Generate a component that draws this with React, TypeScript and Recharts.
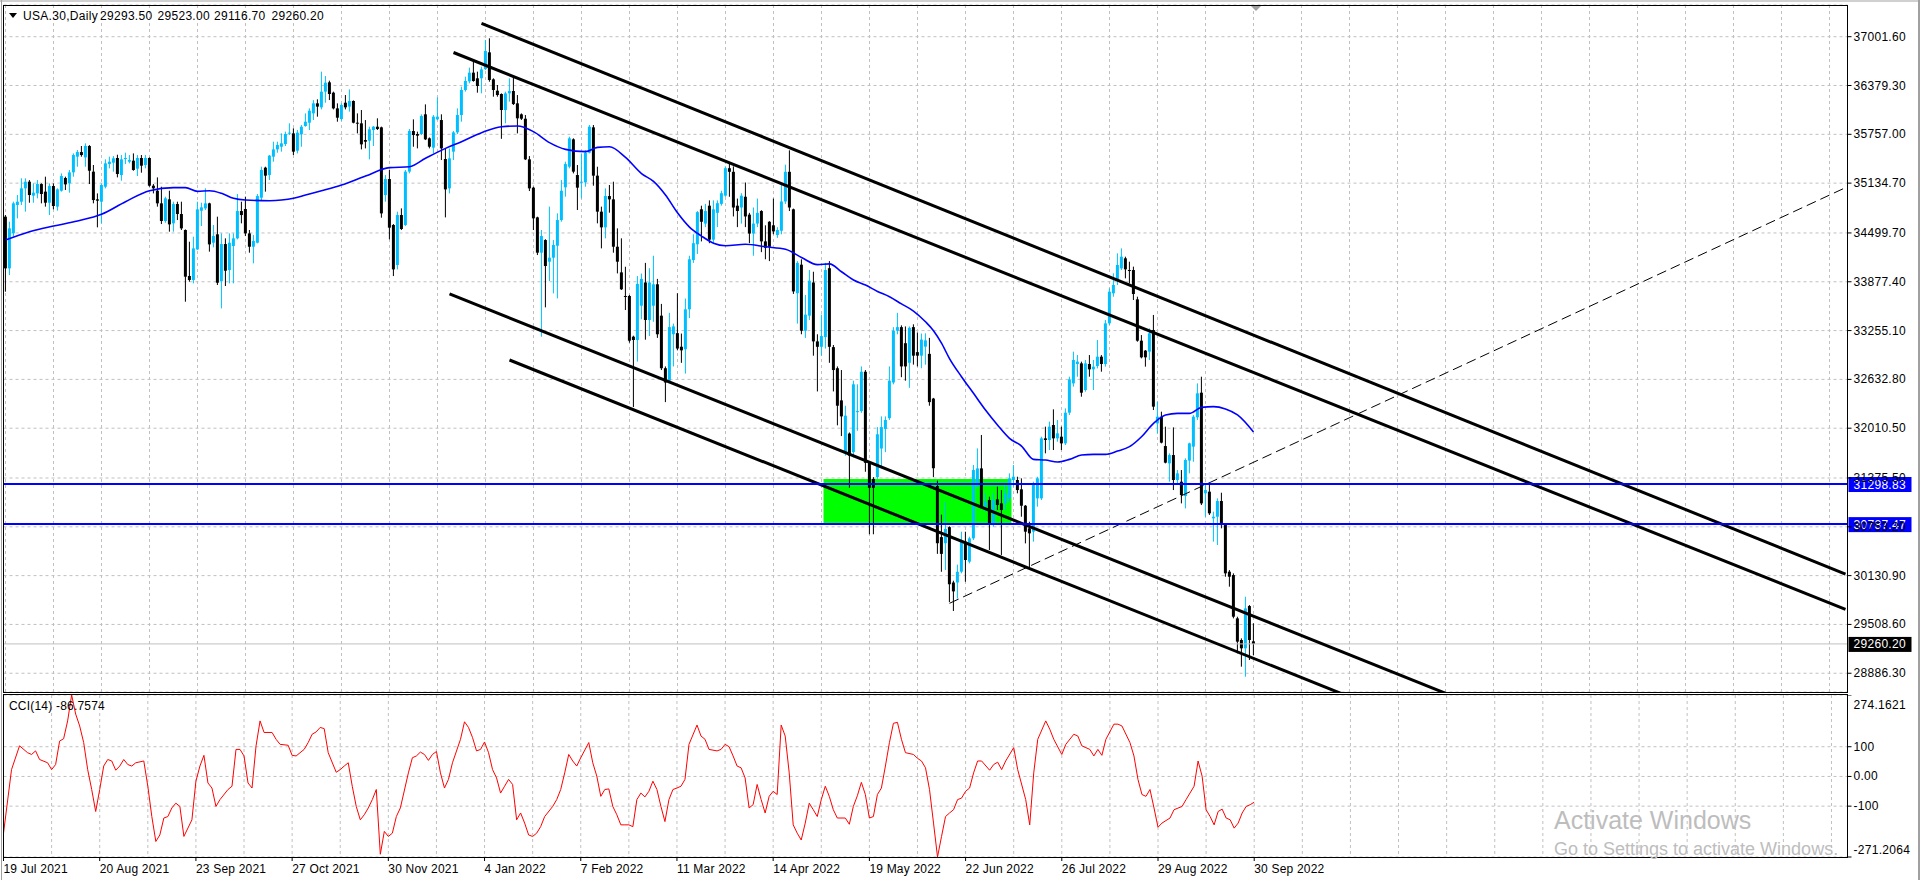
import React from 'react';
import {
  Bar,
  CartesianGrid,
  ComposedChart,
  Line,
  ReferenceArea,
  ReferenceLine,
  XAxis,
  YAxis,
} from 'recharts';

// daily OHLC, [open, high, low, close], one block per date label
const bars19Jul21 = [
  [34707, 34728, 33751, 34048], [34048, 34643, 33963, 34558], [34495, 34898, 34452, 34877], [34856, 34983, 34686, 34898],
  [34898, 35196, 34856, 35068], [35068, 35196, 34771, 35153], [35153, 35174, 34885, 34983], [34975, 35132, 34885, 35013],
  [35004, 35174, 34941, 35123], [35123, 35132, 34877, 34996], [35026, 35217, 34835, 34885], [34885, 35132, 34728, 35098],
  [35098, 35132, 34801, 34843], [34835, 35068, 34784, 35055], [35038, 35259, 35026, 35225], [35200, 35217, 35047, 35119],
  [35132, 35302, 35013, 35272], [35272, 35514, 35217, 35493], [35472, 35557, 35344, 35531], [35531, 35608, 35472, 35493],
  [35463, 35642, 35344, 35608], [35608, 35620, 35123, 35293], [35281, 35366, 34877, 34919], [34928, 35004, 34571, 34911],
];
const bars20Aug21 = [
  [34898, 35132, 34622, 35111], [35089, 35438, 35068, 35387], [35378, 35472, 35323, 35408], [35395, 35480, 35281, 35451],
  [35455, 35497, 35208, 35251], [35238, 35493, 35166, 35438], [35451, 35523, 35378, 35455], [35408, 35493, 35387, 35429],
  [35421, 35514, 35293, 35302], [35319, 35493, 35225, 35455], [35455, 35493, 35268, 35357], [35366, 35493, 35323, 35455],
  [35455, 35463, 35089, 35102], [35102, 35123, 35004, 35068], [35038, 35208, 34835, 34877], [34877, 35089, 34613, 34652],
  [34652, 34962, 34630, 34941], [34928, 35038, 34516, 34609], [34622, 34898, 34516, 34868], [34868, 34898, 34664, 34741],
  [34741, 34898, 34537, 34558], [34537, 34545, 33623, 33942], [33951, 34388, 33878, 33900], [33900, 34452, 33857, 34303],
];
const bars23Sep21 = [
  [34290, 34898, 34282, 34800], [34783, 34885, 34588, 34826], [34813, 35068, 34792, 34877], [34877, 34885, 34261, 34354],
  [34375, 34601, 34316, 34460], [34482, 34707, 33836, 33865], [33887, 34494, 33538, 34358], [34358, 34431, 33823, 34018],
  [34027, 34494, 33857, 34375], [34333, 34494, 33857, 34431], [34431, 34996, 34418, 34779], [34779, 34898, 34622, 34728],
  [34805, 34962, 34460, 34494], [34494, 34537, 34248, 34324], [34324, 34473, 34112, 34397], [34375, 34996, 34367, 34970],
  [34949, 35344, 34919, 35302], [35332, 35344, 35026, 35230], [35238, 35493, 35174, 35485], [35472, 35663, 35408, 35565],
  [35565, 35663, 35523, 35621], [35599, 35769, 35536, 35642], [35633, 35791, 35608, 35761], [35769, 35897, 35748, 35778],
];
const bars27Oct21 = [
  [35769, 35833, 35493, 35536], [35548, 35812, 35514, 35778], [35757, 35876, 35599, 35854], [35863, 36024, 35854, 35918],
  [35905, 36088, 35812, 36058], [36024, 36194, 35939, 36152], [36152, 36203, 35982, 36110], [36101, 36556, 36075, 36301],
  [36301, 36500, 36160, 36415], [36420, 36441, 36194, 36271], [36288, 36301, 36075, 36088], [36088, 36152, 35918, 35969],
  [35952, 36152, 35931, 36131], [36160, 36258, 36075, 36101], [36110, 36330, 36046, 36182], [36182, 36190, 35897, 35905],
  [35905, 36024, 35769, 35897], [35897, 36067, 35565, 35629], [35684, 35939, 35578, 35663], [35676, 35854, 35438, 35821],
  [35812, 35863, 35608, 35854], [35854, 35961, 35812, 35825], [35846, 35855, 34694, 34749], [34983, 35238, 34898, 35187],
];
const bars30Nov21 = [
  [35187, 35302, 34418, 34567], [34601, 34613, 33950, 34035], [34091, 34771, 34035, 34728], [34728, 34813, 34537, 34550],
  [34601, 35302, 34588, 35281], [35281, 35825, 35259, 35799], [35799, 35948, 35599, 35748], [35761, 35791, 35578, 35740],
  [35761, 36012, 35748, 35990], [36012, 36139, 35684, 35693], [35706, 35718, 35578, 35599], [35587, 36003, 35514, 35982],
  [35948, 36228, 35939, 35982], [35939, 36012, 35429, 35578], [35442, 35578, 34698, 35055], [35068, 35578, 35004, 35451],
  [35536, 35799, 35429, 35782], [35782, 36088, 35760, 36003], [36003, 36365, 35918, 36322], [36322, 36492, 36301, 36437],
  [36432, 36607, 36407, 36543], [36543, 36704, 36428, 36437], [36471, 36556, 36288, 36373], [36471, 36619, 36280, 36585],
];
const bars4Jan22 = [
  [36590, 36960, 36577, 36819], [36802, 36981, 36428, 36450], [36458, 36471, 36237, 36322], [36313, 36386, 36237, 36258],
  [36271, 36279, 35700, 36067], [36067, 36301, 35897, 36279], [36279, 36471, 36173, 36309], [36309, 36492, 36131, 36143],
  [36152, 36258, 35769, 35961], [36012, 36024, 35940, 35956], [35956, 36003, 35429, 35438], [35438, 35480, 35034, 35068],
  [35077, 35089, 34537, 34686], [34698, 34707, 34218, 34248], [34248, 34537, 33177, 34460], [34409, 34420, 33551, 34078],
  [34133, 34835, 33887, 34184], [34184, 34409, 33729, 34346], [34337, 34750, 33666, 34664], [34664, 35174, 34643, 35038],
  [35081, 35408, 34962, 35378], [35344, 35727, 35323, 35706], [35693, 35706, 35259, 35281], [35238, 35366, 34792, 35077],
];
const bars7Feb22 = [
  [35145, 35514, 34941, 35153], [35145, 35557, 35089, 35523], [35523, 35876, 35514, 35854], [35846, 35876, 35102, 35230],
  [35230, 35344, 34622, 34771], [34771, 34835, 34303, 34571], [34571, 35068, 34431, 34970], [34970, 35111, 34758, 34928],
  [34928, 35153, 34248, 34324], [34324, 34558, 33984, 34133], [33997, 34431, 33772, 33781], [33696, 34069, 33517, 33687],
  [33696, 33710, 33101, 33126], [33177, 33190, 32280, 33135], [33135, 33950, 32860, 33850], [33572, 33982, 33399, 33914],
  [33868, 34118, 33139, 33390], [33390, 34050, 33185, 33868], [33572, 34209, 33367, 33845], [33845, 33914, 33162, 33208],
  [33445, 33595, 32752, 32775], [32775, 32798, 32343, 32593], [32616, 33481, 32593, 33299], [33208, 33344, 32798, 33308],
];
const bars11Mar22 = [
  [33222, 33731, 33003, 33026], [33049, 33217, 32844, 33003], [33017, 33663, 32707, 33526], [33526, 34209, 33413, 34164],
  [34155, 34483, 34118, 34369], [34355, 34779, 34232, 34765], [34801, 34847, 34392, 34642], [34619, 34870, 34574, 34779],
  [34847, 34915, 34369, 34414], [34414, 34915, 34369, 34801], [34756, 34915, 34574, 34879], [34870, 35038, 34847, 35006],
  [34975, 35348, 34961, 35325], [35325, 35393, 34961, 35279], [35279, 35348, 34710, 34824], [34847, 34938, 34574, 34779],
  [34824, 35006, 34619, 34974], [34961, 35143, 34574, 34710], [34733, 34756, 34369, 34492], [34492, 34824, 34209, 34619],
  [34619, 34938, 34574, 34756], [34779, 34790, 34255, 34392], [34392, 34597, 34164, 34310], [34642, 34650, 34141, 34323],
];
const bars14Apr22 = [
  [34597, 34938, 34483, 34519], [34474, 34574, 34437, 34537], [34528, 35120, 34483, 34901], [34901, 35370, 34870, 35279],
  [35279, 35553, 34779, 34824], [34801, 34810, 33722, 33754], [33731, 34141, 33344, 34118], [34095, 34164, 33208, 33253],
  [33253, 33709, 33162, 33458], [33445, 34027, 33390, 33891], [33868, 34005, 32935, 33117], [33117, 33208, 32479, 33048],
  [33048, 33458, 32935, 33185], [33172, 34118, 33026, 34027], [34050, 34141, 32844, 33048], [33044, 33071, 32479, 32752],
  [32775, 32798, 32047, 32297], [32365, 32752, 31910, 32161], [31705, 32297, 31660, 32170], [31942, 31956, 31250, 31660],
  [31705, 32616, 31637, 32570], [32215, 32570, 31978, 32229], [32229, 32798, 32206, 32730], [32730, 32752, 31455, 31569],
];
const bars19May22 = [
  [31569, 31591, 30658, 31250], [31364, 31387, 30658, 31250], [31387, 32024, 31364, 31933], [31751, 32161, 31500, 32024],
  [32001, 32161, 31705, 32115], [32138, 32798, 32115, 32616], [32593, 33299, 32570, 33253], [33253, 33481, 33208, 33299],
  [33299, 33322, 32661, 32798], [33094, 33308, 32616, 32798], [32844, 33308, 32525, 33290], [33299, 33335, 32821, 32935],
  [32980, 33231, 32798, 32935], [32935, 33217, 32775, 33140], [33050, 33220, 32820, 33130], [32958, 33162, 32297, 32343],
  [32388, 32397, 31387, 31500], [31273, 31341, 30408, 30544], [30622, 30909, 30180, 30408], [30544, 31068, 30203, 30726],
  [30749, 30760, 29793, 30021], [30043, 30066, 29680, 29930], [30043, 30271, 29838, 30180], [30181, 30691, 30160, 30564],
];
const bars22Jun22 = [
  [30564, 30691, 30053, 30330], [30309, 30627, 30287, 30606], [30606, 31541, 30585, 31477], [31265, 31753, 31265, 31498],
  [31498, 31924, 30989, 31010], [31010, 31180, 30946, 31073], [31095, 31137, 30457, 30797], [30797, 31180, 30755, 31095],
  [31103, 31265, 30967, 31031], [31052, 31222, 30394, 30967], [31052, 31307, 30967, 31180], [31116, 31435, 31073, 31371],
  [31350, 31541, 31265, 31392], [31350, 31392, 31180, 31222], [31231, 31371, 30882, 31022], [31022, 31031, 30542, 30691],
  [30734, 30818, 30223, 30670], [30691, 31328, 30564, 31307], [31116, 31392, 31010, 31371], [31116, 31902, 31095, 31881],
  [31881, 32030, 31690, 31860], [31860, 32094, 31732, 32030], [32051, 32251, 31732, 31881], [31881, 32115, 31838, 31945],
];
const bars26Jul22 = [
  [31902, 32030, 31732, 31817], [31817, 32263, 31796, 32208], [32208, 32667, 32179, 32633], [32582, 32986, 32540, 32880],
  [32829, 32943, 32667, 32859], [32837, 32859, 32412, 32463], [32497, 32880, 32476, 32837], [32829, 32943, 32667, 32761],
  [32761, 32880, 32497, 32795], [32803, 33135, 32773, 32922], [32922, 32943, 32731, 32829], [32829, 33390, 32795, 33347],
  [33347, 33793, 33326, 33751], [33730, 33985, 33687, 33836], [33900, 34240, 33836, 34091], [34048, 34303, 34027, 34197],
  [34176, 34197, 33921, 34036], [34027, 34133, 33857, 34019], [34027, 34070, 33645, 33721], [33653, 33687, 33113, 33126],
  [33126, 33198, 32901, 32914], [32999, 33007, 32795, 32914], [32986, 33283, 32880, 33220], [33262, 33454, 32242, 32285],
];
const bars29Aug22 = [
  [32072, 32348, 31945, 32157], [32157, 32221, 31817, 31826], [31783, 32030, 31562, 31571], [31562, 31690, 31328, 31668],
  [31668, 32021, 31222, 31350], [31350, 31477, 31307, 31435], [31328, 31477, 31052, 31158], [31146, 31626, 30988, 31605],
  [31597, 31826, 31435, 31817], [31775, 32178, 31583, 32157], [32149, 32582, 32115, 32455], [32463, 32667, 31031, 31052],
  [31180, 31307, 30882, 31222], [31201, 31307, 30904, 30925], [30861, 30946, 30564, 30882], [30882, 31116, 30521, 31082],
  [31082, 31188, 30734, 30776], [30776, 30797, 30117, 30160], [30181, 30202, 29990, 30117], [30138, 30160, 29586, 29607],
  [29586, 29607, 29140, 29289], [29310, 29331, 28970, 29204], [29204, 29862, 28842, 29713], [29743, 29756, 29055, 29310],
];
const bars30Sep22 = [[29293.5, 29523.0, 29116.7, 29260.2]];

const blocks = [
  bars19Jul21, bars20Aug21, bars23Sep21, bars27Oct21, bars30Nov21, bars4Jan22, bars7Feb22,
  bars11Mar22, bars14Apr22, bars19May22, bars22Jun22, bars26Jul22, bars29Aug22, bars30Sep22,
];
const dateLabels = [
  '19 Jul 2021', '20 Aug 2021', '23 Sep 2021', '27 Oct 2021', '30 Nov 2021', '4 Jan 2022', '7 Feb 2022',
  '11 Mar 2022', '14 Apr 2022', '19 May 2022', '22 Jun 2022', '26 Jul 2022', '29 Aug 2022', '30 Sep 2022',
];

// moving average, [bar, value]
const maPoints: [number, number][] = [
  [0, 34409], [6, 34516], [12, 34588], [18, 34652], [24, 34737], [30, 34898], [36, 35038], [42, 35077],
  [45, 35077], [48, 35030], [51, 35038], [54, 35005], [57, 34941], [60, 34919], [66, 34911], [69, 34919],
  [72, 34941], [75, 34983], [79, 35038], [84, 35111], [90, 35225], [96, 35332], [101, 35344], [105, 35451],
  [110, 35578], [114, 35663], [119, 35778], [124, 35854], [128, 35863], [132, 35791], [136, 35651], [140, 35565],
  [145, 35536], [148, 35591], [151, 35599], [155, 35463], [159, 35257], [162, 35156], [165, 34983], [168, 34756],
  [171, 34574], [174, 34460], [177, 34369], [180, 34337], [185, 34355], [190, 34323], [195, 34291], [199, 34187],
  [203, 34096], [206, 34105], [209, 34005], [212, 33900], [215, 33836], [218, 33754], [221, 33686], [224, 33595],
  [227, 33504], [230, 33367], [232, 33253], [234, 33094], [236, 32898], [239, 32667], [242, 32455], [245, 32242],
  [248, 32051], [251, 31881], [254, 31783], [257, 31613], [260, 31605], [263, 31579], [266, 31613], [269, 31668],
  [272, 31677], [275, 31677], [278, 31719], [281, 31775], [284, 31902], [287, 32072], [290, 32179], [293, 32200],
  [296, 32200], [299, 32276], [302, 32285], [305, 32255], [308, 32179], [312, 31962],
];

// CCI(14), [bar, value]
const cciPoints: [number, number][] = [
  [0, -191], [2, 23], [4, 103], [6, 80], [7, 74], [8, 86], [9, 57], [11, 46], [12, 23], [13, 40], [14, 119],
  [15, 127], [16, 187], [17, 274.16], [18, 210], [19, 170], [20, 114], [21, 23], [22, -44], [23, -118], [24, -44],
  [25, 35], [26, 57], [27, 52], [28, 21], [29, 35], [30, 57], [31, 40], [32, 35], [33, 46], [35, 52], [36, -33],
  [37, -135], [38, -219], [39, -197], [40, -140], [41, -135], [42, -106], [43, -90], [44, -101], [45, -202],
  [47, -146], [48, -16], [49, 35], [50, 71], [51, -22], [52, -39], [53, -101], [54, -78], [56, -44], [57, -33],
  [58, 91], [59, 91], [60, 69], [61, -22], [62, -39], [63, 103], [64, 187], [65, 148], [67, 148], [68, 125],
  [69, 108], [71, 105], [72, 71], [73, 69], [75, 91], [76, 114], [77, 142], [78, 150], [79, 165], [80, 161],
  [81, 80], [83, 14], [84, 23], [85, 35], [86, 46], [87, -33], [88, -101], [89, -146], [90, -129], [91, -106],
  [92, -78], [93, -44], [94, -262], [95, -185], [96, -202], [97, -191], [98, -135], [99, -106], [101, 12],
  [102, 63], [103, 69], [104, 82], [105, 74], [106, 54], [107, 74], [108, 84], [109, 12], [110, -39], [111, -10],
  [112, 46], [114, 125], [115, 184], [116, 165], [117, 131], [118, 86], [119, 91], [120, 116], [121, 80],
  [122, 23], [123, -5], [124, -56], [125, -33], [126, -10], [127, -27], [128, -146], [129, -123], [130, -157],
  [131, -197], [132, -202], [133, -191], [134, -169], [135, -135], [137, -101], [138, -78], [139, -44], [140, 12],
  [141, 74], [142, 52], [143, 35], [144, 63], [146, 114], [147, 46], [148, 1], [149, -67], [150, -44], [151, -42],
  [152, -101], [153, -129], [154, -163], [155, -163], [156, -163], [157, -169], [158, -78], [159, -56], [160, -69],
  [161, -50], [162, -16], [163, -44], [164, -101], [165, -152], [166, -78], [167, -44], [168, -39], [169, -33],
  [170, -10], [171, 108], [173, 173], [174, 136], [175, 125], [176, 91], [178, 86], [179, 91], [180, 108],
  [181, 100], [182, 69], [183, 35], [184, 29], [185, -5], [186, -106], [187, -95], [188, -27], [189, -78],
  [190, -123], [191, -67], [192, -50], [193, -61], [194, 173], [195, 136], [196, 12], [197, -163], [198, -191],
  [199, -214], [200, -157], [201, -90], [202, -112], [203, -135], [204, -78], [205, -33], [206, -67], [207, -112],
  [208, -140], [210, -140], [211, -161], [212, -101], [213, -65], [214, -20], [215, -61], [216, -140], [217, -135],
  [218, -61], [219, -39], [220, 35], [221, 114], [222, 179], [223, 182], [224, 125], [225, 80], [227, 74],
  [228, 61], [229, 52], [230, 29], [231, -44], [232, -157], [233, -271.2], [234, -202], [235, -135], [236, -123],
  [237, -112], [238, -78], [239, -73], [240, -50], [241, -39], [242, 12], [243, 52], [244, 52], [246, 21],
  [247, 40], [248, 48], [249, 23], [250, 52], [252, 97], [253, 23], [255, -78], [256, -163], [257, 12], [258, 125],
  [260, 187], [261, 159], [262, 125], [264, 74], [265, 108], [267, 142], [268, 136], [269, 103], [270, 97],
  [271, 91], [272, 69], [273, 91], [274, 71], [275, 125], [277, 176], [278, 176], [279, 170], [281, 114],
  [282, 69], [283, -10], [284, -61], [285, -67], [286, -44], [287, -106], [288, -171], [289, -157], [291, -140],
  [292, -112], [294, -101], [295, -78], [297, -33], [298, 52], [299, 1], [300, -112], [301, -135], [302, -163],
  [303, -118], [304, -110], [305, -140], [306, -146], [307, -174], [308, -157], [309, -123], [310, -101],
  [311, -95], [312, -86.7574],
];

const priceTicks = [
  37001.6, 36379.3, 35757.0, 35134.7, 34499.7, 33877.4, 33255.1, 32632.8, 32010.5, 31375.5, 30753.2, 30130.9,
  29508.6, 28886.3,
];
const cciTicks = [274.1621, 100, 0, -100, -271.2064];

// drawn objects: [bar, price]
const channelLines: [number, number][][] = [
  [[119, 37172], [460, 30150]],
  [[112, 36800], [460, 29700]],
  [[111, 33723], [460, 26586]],
  [[126, 32880], [460, 26050]],
];
const dashedLine: [number, number][] = [[236, 29778], [460, 35077]];
const levels = [31298.83, 30787.47];
const zoneBars = [205, 251];
const zonePrices = [30787.47, 31362];

const SLOTS = 461; // bars plus the empty shift area on the right
const PRICE_DOMAIN = [28647.2, 37405.7];
const CCI_DOMAIN = [-271.2064, 274.1621];
const FONT = '"Liberation Sans", Arial, sans-serif';
const BULL = '#00BFFF';
const BEAR = '#000000';

const candles = blocks.flat();
const last = candles[candles.length - 1];
const maMap = new Map(maPoints);
const cciMap = new Map(cciPoints);
const labelAt = new Map<number, string>();
blocks.reduce((start, b, k) => {
  labelAt.set(start, dateLabels[k]);
  return start + b.length;
}, 0);

const rows = Array.from({ length: SLOTS }, (_, i) => {
  const c = candles[i];
  return {
    i,
    open: c ? c[0] : null,
    high: c ? c[1] : null,
    low: c ? c[2] : null,
    close: c ? c[3] : null,
    range: c ? [c[2], c[1]] : null,
    ma: maMap.has(i) ? maMap.get(i) : null,
    cci: cciMap.has(i) ? cciMap.get(i) : null,
  };
});

function Candle(props: any) {
  const { x, y, width, height, payload } = props;
  if (!payload || payload.open == null || !isFinite(y) || !isFinite(height)) return <g />;
  const { open, close, high, low } = payload;
  const k = height / (high - low || 1);
  const yO = y + (high - open) * k;
  const yC = y + (high - close) * k;
  const color = close >= open ? BULL : BEAR;
  const cx = x + width / 2;
  return (
    <g>
      <rect x={cx - 0.5} y={y} width={1} height={Math.max(1, height)} fill={color} />
      <rect x={cx - 1.5} y={Math.min(yO, yC)} width={3} height={Math.max(1, Math.abs(yO - yC))} fill={color} />
    </g>
  );
}

function PriceTag(props: any) {
  const { viewBox, text, bg } = props;
  if (!viewBox) return null;
  const x = viewBox.x + viewBox.width;
  const y = viewBox.y;
  return (
    <g>
      <rect x={x + 1} y={y - 7} width={63} height={15} fill={bg} />
      <text x={x + 6} y={y + 4.5} fill="#fff" fontSize={12} fontFamily={FONT} letterSpacing={0.3}>
        {text}
      </text>
    </g>
  );
}

function PriceTick({ x, y, payload }: any) {
  return (
    <text x={x} y={y + 4} fontSize={12} fill="#000" fontFamily={FONT} letterSpacing={0.3}>
      {Number(payload.value).toFixed(2)}
    </text>
  );
}

function CciTick({ x, y, payload }: any) {
  const v = payload.value;
  const shift = v > 200 ? 10 : v < -200 ? -7 : 0;
  const label = v === 0 ? '0.00' : Number.isInteger(v) ? String(v) : v.toFixed(4);
  return (
    <text x={x} y={y + shift + 4} fontSize={12} fill="#000" fontFamily={FONT} letterSpacing={0.3}>
      {label}
    </text>
  );
}

function DateTick({ x, y, payload }: any) {
  const label = labelAt.get(payload.value);
  if (!label) return <g />;
  return (
    <g>
      <line x1={x} x2={x} y1={y} y2={y + 4} stroke="#000" />
      <text x={x} y={y + 16} fontSize={12} fill="#000" fontFamily={FONT} letterSpacing={0.2}>
        {label}
      </text>
    </g>
  );
}

const margin = { top: 5, right: 0, bottom: 1, left: 3.5 };
const header = [
  { x: 23, text: 'USA.30,Daily' },
  { x: 100, text: last[0].toFixed(2) },
  { x: 157.5, text: last[1].toFixed(2) },
  { x: 214, text: last[2].toFixed(2) },
  { x: 271.5, text: last[3].toFixed(2) },
];

export default function App() {
  return (
    <div
      style={{
        position: 'fixed',
        left: 0,
        top: 0,
        width: 1920,
        height: 880,
        background: '#fff',
        overflow: 'hidden',
        fontFamily: FONT,
      }}
    >
      <div style={{ position: 'absolute', left: 0, top: 0 }}>
        <ComposedChart width={1920} height={693} data={rows} margin={margin}>
          <CartesianGrid stroke="#c0c0c0" strokeDasharray="3 3" />
          <XAxis dataKey="i" type="category" hide interval={11} />
          <YAxis
            orientation="right"
            width={72.5}
            domain={PRICE_DOMAIN}
            allowDataOverflow
            ticks={priceTicks}
            interval={0}
            tickSize={4}
            tickMargin={2}
            axisLine={{ stroke: '#000' }}
            tickLine={{ stroke: '#000' }}
            tick={<PriceTick />}
          />
          <ReferenceArea
            x1={zoneBars[0]}
            x2={zoneBars[1]}
            y1={zonePrices[0]}
            y2={zonePrices[1]}
            fill="#00FF00"
            fillOpacity={1}
            stroke="none"
          />
          <ReferenceLine
            y={last[3]}
            stroke="#c0c0c0"
            strokeWidth={1}
            label={<PriceTag text={last[3].toFixed(2)} bg="#000" />}
          />
          <Bar dataKey="range" shape={<Candle />} isAnimationActive={false} />
          <Line
            dataKey="ma"
            type="monotone"
            stroke="#0000FF"
            strokeWidth={1.6}
            dot={false}
            connectNulls
            isAnimationActive={false}
          />
          {channelLines.map((seg, k) => (
            <ReferenceLine
              key={k}
              segment={seg.map(([x, y]) => ({ x, y }))}
              stroke="#000"
              strokeWidth={3}
              ifOverflow="hidden"
            />
          ))}
          <ReferenceLine
            segment={dashedLine.map(([x, y]) => ({ x, y }))}
            stroke="#000"
            strokeWidth={1}
            strokeDasharray="10 5"
            ifOverflow="hidden"
          />
          {levels.map((v) => (
            <ReferenceLine
              key={v}
              y={v}
              stroke="#0000FF"
              strokeWidth={2}
              label={<PriceTag text={v.toFixed(2)} bg="#0000FF" />}
            />
          ))}
        </ComposedChart>
      </div>

      <div style={{ position: 'absolute', left: 0, top: 695 }}>
        <ComposedChart width={1920} height={185} data={rows} margin={{ top: 0, right: 0, bottom: 0, left: 3.5 }}>
          <CartesianGrid stroke="#c0c0c0" strokeDasharray="3 3" />
          <XAxis
            dataKey="i"
            type="category"
            interval={11}
            height={23}
            tickSize={0}
            tickMargin={0}
            axisLine={false}
            tickLine={false}
            tick={<DateTick />}
          />
          <YAxis
            orientation="right"
            width={72.5}
            domain={CCI_DOMAIN}
            allowDataOverflow
            ticks={cciTicks}
            interval={0}
            tickSize={4}
            tickMargin={2}
            axisLine={{ stroke: '#000' }}
            tickLine={{ stroke: '#000' }}
            tick={<CciTick />}
          />
          <Line
            dataKey="cci"
            type="linear"
            stroke="#FF0000"
            strokeWidth={1}
            dot={false}
            connectNulls
            isAnimationActive={false}
          />
        </ComposedChart>
      </div>

      <svg
        width={1920}
        height={880}
        style={{ position: 'absolute', left: 0, top: 0, pointerEvents: 'none' }}
      >
        <rect x={0} y={0} width={1920} height={2} fill="#d0d0d0" />
        <rect x={1} y={0} width={1} height={880} fill="#a0a0a0" />
        <rect x={1918} y={0} width={2} height={880} fill="#a0a0a0" />
        <line x1={3} x2={1848} y1={5.5} y2={5.5} stroke="#000" />
        <line x1={3.5} x2={3.5} y1={5} y2={693} stroke="#000" />
        <line x1={3} x2={1848} y1={692.5} y2={692.5} stroke="#000" />
        <line x1={3} x2={1848} y1={694.5} y2={694.5} stroke="#000" />
        <line x1={3.5} x2={3.5} y1={694} y2={858} stroke="#000" />
        <line x1={3} x2={1848} y1={857.5} y2={857.5} stroke="#000" />
        <polygon points="1251,6 1261,6 1256,11" fill="#a0a0a0" />
        <polygon points="9,13 17,13 13,18" fill="#000" />
        {header.map((h) => (
          <text key={h.x} x={h.x} y={20} fontSize={12} fill="#000" fontFamily={FONT} letterSpacing={0.3}>
            {h.text}
          </text>
        ))}
        <text x={9} y={709.5} fontSize={12} fill="#000" fontFamily={FONT} letterSpacing={0.2}>
          {`CCI(14) ${cciPoints[cciPoints.length - 1][1].toFixed(4)}`}
        </text>
        <text x={1554} y={829} fontSize={25} fill="#bdbdbd" fontFamily={FONT}>
          Activate Windows
        </text>
        <text x={1554} y={855} fontSize={18} fill="#bdbdbd" fontFamily={FONT}>
          Go to Settings to activate Windows.
        </text>
      </svg>
    </div>
  );
}
